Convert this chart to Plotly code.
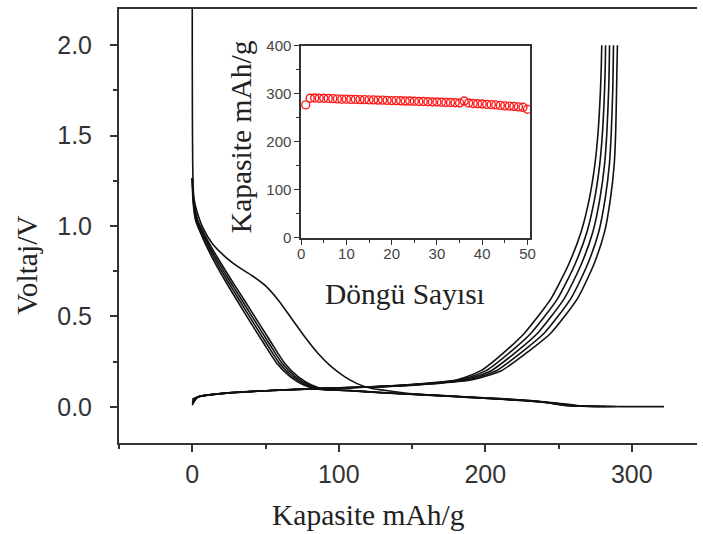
import plotly.graph_objects as go

# ---- Galvanostatic charge/discharge profiles (capacity in mAh/g, voltage in V) ----
# First discharge
dis1_v = [2.2, 2.0, 1.6, 1.35, 1.22, 1.15, 1.083, 0.991, 0.900, 0.827, 0.771, 0.725,
          0.670, 0.588, 0.487, 0.386, 0.295, 0.222, 0.167, 0.127, 0.103, 0.085,
          0.072, 0.055, 0.027, 0.008, 0.002, 0.001]
dis1_q = [0, 0, 0.1, 0.3, 0.6, 1.2, 3.1, 7.2, 13.9, 22.9, 31.9, 40.9,
          49.9, 58.9, 67.9, 76.9, 85.9, 94.9, 103.9, 112.9, 121.9, 137,
          150, 183, 239, 254, 280, 322]

# Later discharges (shared voltage levels)
dis_v = [1.265, 1.14, 1.03, 0.94, 0.827, 0.70, 0.588, 0.46, 0.35, 0.24, 0.167,
         0.121, 0.097, 0.09, 0.078, 0.065, 0.052, 0.035, 0.02, 0.006, 0.002]
dis2_q = [0, 0.5, 2.3, 6.8, 13.5, 22.3, 30.6, 40.3, 48.9, 57.8, 66.8, 76, 86, 105, 128, 160, 190, 225, 245, 258, 278]
dis3_q = [0, 0.7, 2.8, 7.6, 14.7, 23.8, 32.3, 42.1, 50.7, 59.6, 68.6, 77.8, 87.5, 106, 130, 162, 192, 227, 247, 260, 282]
dis4_q = [0, 0.9, 3.3, 8.4, 15.9, 25.3, 34, 43.9, 52.5, 61.4, 70.4, 79.6, 89, 107, 131, 163, 194, 229, 248, 262, 286]
dis5_q = [0, 1.1, 3.8, 9.2, 17.1, 26.8, 35.7, 45.7, 54.3, 63.2, 72.2, 81.4, 90.5, 108, 132, 165, 196, 231, 250, 264, 289]

# Charges: starting voltages differ, remaining voltage levels are shared
chg_v_start = [0.01, 0.018, 0.026, 0.034, 0.042]
chg_v = [0.055, 0.077, 0.093, 0.105, 0.112, 0.13, 0.148, 0.2, 0.31, 0.41, 0.6,
         0.79, 0.97, 1.15, 1.34, 1.52, 1.75, 1.89, 2.0]
chg1_q = [0, 4, 25, 59, 100, 125, 160, 180, 197, 214, 227, 245, 257, 265.5, 271, 274.8, 277, 278.6, 279.2, 279.5]
chg2_q = [0, 4, 25, 60, 101, 126.5, 162, 182.5, 200.5, 218, 231.5, 249.5, 261.3, 269.5, 274.6, 278.1, 280, 281.4, 281.9, 282.1]
chg3_q = [0, 4, 25, 61, 102, 128, 164, 185, 204, 222, 236, 254, 265.6, 273.5, 278.2, 281.4, 283, 284.2, 284.6, 284.8]
chg4_q = [0, 4, 25, 62, 103, 129.5, 166, 187.5, 207.5, 226, 240.5, 258.5, 269.9, 277.5, 281.8, 284.7, 286, 287, 287.3, 287.5]
chg5_q = [0, 4, 25, 63, 104, 131, 168, 190, 211, 230, 245, 263, 274.2, 281.5, 285.4, 288, 289, 289.6, 289.9, 290.2]

# ---- Cycling stability (inset) ----
cycles = list(range(1, 51))
cycle_capacity = [277, 291, 291.5, 291, 291, 290.5, 290, 289.5, 289, 289,
                  288.5, 288.5, 288, 288, 287.5, 287.5, 287, 287, 286.5, 286,
                  286, 285.5, 285, 285, 284.5, 284, 284, 283.5, 283, 283,
                  282.5, 282, 282, 281.5, 281, 285, 281, 280, 279.5, 279,
                  278, 277.5, 277, 276, 275, 274.5, 274, 273, 272, 268]

SERIF = "Liberation Serif, Times New Roman, serif"
SANS = "Liberation Sans, Arial, sans-serif"
INK = "#222222"
AXIS = "#333333"

fig = go.Figure()

line_style = dict(color="#111111", width=1.6, shape="spline", smoothing=0.6)

fig.add_trace(go.Scatter(x=dis1_q, y=dis1_v, mode="lines", line=line_style, showlegend=False))
for q in (dis2_q, dis3_q, dis4_q, dis5_q):
    fig.add_trace(go.Scatter(x=q, y=dis_v, mode="lines", line=line_style, showlegend=False))
for v0, q in zip(chg_v_start, (chg1_q, chg2_q, chg3_q, chg4_q, chg5_q)):
    fig.add_trace(go.Scatter(x=q, y=[v0] + chg_v, mode="lines", line=line_style, showlegend=False))

fig.add_trace(go.Scatter(
    x=cycles, y=cycle_capacity, mode="markers", xaxis="x2", yaxis="y2",
    marker=dict(symbol="circle-open", size=8, color="#ff1a1a", line=dict(width=1.4)),
    showlegend=False,
))

W, H = 703, 534
ML, MR, MT, MB = 119, 0, 7, 91
PW, PH = W - ML - MR, H - MT - MB


def px_x(px):
    return (px - ML) / PW


def px_y(py):
    return (H - MB - py) / PH


fig.update_layout(
    width=W, height=H,
    margin=dict(l=ML, r=MR, t=MT, b=MB),
    paper_bgcolor="white", plot_bgcolor="white",
    xaxis=dict(
        range=[-50, 344.5], tickmode="linear", tick0=0, dtick=100,
        ticks="outside", ticklen=7, tickwidth=1.5, tickcolor=AXIS,
        showline=True, linewidth=2, linecolor=AXIS, mirror=True,
        showgrid=False, zeroline=False, ticklabelstandoff=1,
        tickfont=dict(family=SANS, size=25, color=AXIS),
        minor=dict(tickmode="linear", tick0=0, dtick=50, ticks="outside",
                   ticklen=4, tickwidth=1.5, tickcolor=AXIS, showgrid=False),
    ),
    yaxis=dict(
        range=[-0.2, 2.2], tickmode="linear", tick0=0, dtick=0.5, tickformat=".1f",
        ticks="outside", ticklen=7, tickwidth=1.5, tickcolor=AXIS,
        showline=True, linewidth=2, linecolor=AXIS, mirror=False,
        showgrid=False, zeroline=False, ticklabelstandoff=13,
        tickfont=dict(family=SANS, size=25, color=AXIS),
        minor=dict(tickmode="linear", tick0=0, dtick=0.25, ticks="outside",
                   ticklen=4, tickwidth=1.5, tickcolor=AXIS, showgrid=False),
    ),
    xaxis2=dict(
        domain=[px_x(303), px_x(534)], anchor="y2",
        range=[0, 50.5], tickmode="linear", tick0=0, dtick=10,
        ticks="outside", ticklen=5, tickwidth=1.2, tickcolor=AXIS,
        showline=True, linewidth=1.5, linecolor=AXIS, mirror=True,
        showgrid=False, zeroline=False, ticklabelstandoff=-4,
        tickfont=dict(family=SANS, size=15, color="#444444"),
        minor=dict(tickmode="linear", tick0=0, dtick=5, ticks="outside",
                   ticklen=3, tickwidth=1, tickcolor=AXIS, showgrid=False),
    ),
    yaxis2=dict(
        domain=[px_y(237), px_y(44)], anchor="x2",
        range=[0, 400], tickmode="linear", tick0=0, dtick=100,
        ticks="outside", ticklen=5, tickwidth=1.2, tickcolor=AXIS,
        showline=True, linewidth=1.5, linecolor=AXIS, mirror=True,
        showgrid=False, zeroline=False,
        tickfont=dict(family=SANS, size=15, color="#444444"),
        minor=dict(tickmode="linear", tick0=0, dtick=50, ticks="outside",
                   ticklen=3, tickwidth=1, tickcolor=AXIS, showgrid=False),
    ),
    annotations=[
        dict(text="Kapasite mAh/g", xref="paper", yref="paper",
             x=px_x(371.5), y=px_y(515), xanchor="center", yanchor="middle",
             showarrow=False, font=dict(family=SERIF, size=29.5, color=INK)),
        dict(text="Voltaj/V", xref="paper", yref="paper",
             x=px_x(26), y=px_y(264), xanchor="center", yanchor="middle", textangle=-90,
             showarrow=False, font=dict(family=SERIF, size=29.5, color=INK)),
        dict(text="Kapasite mAh/g", xref="paper", yref="paper",
             x=px_x(243), y=px_y(135), xanchor="center", yanchor="middle", textangle=-90,
             showarrow=False, font=dict(family=SERIF, size=29.5, color=INK)),
        dict(text="Döngü Sayısı", xref="paper", yref="paper",
             x=px_x(408), y=px_y(293), xanchor="center", yanchor="middle",
             showarrow=False, font=dict(family=SERIF, size=29.5, color=INK)),
    ],
)

fig.write_html("out.html")
